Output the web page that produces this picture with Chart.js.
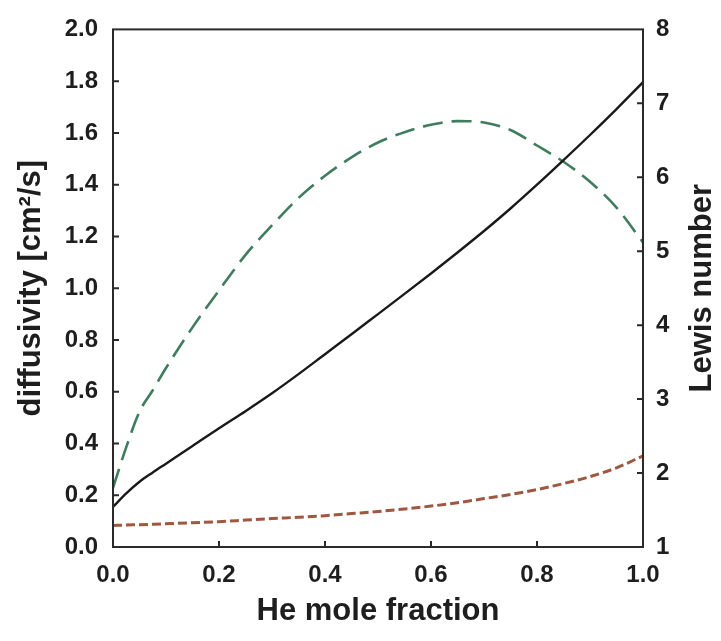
<!DOCTYPE html>
<html>
<head>
<meta charset="utf-8">
<script src="https://cdn.jsdelivr.net/npm/chart.js@4.4.1/dist/chart.umd.min.js"></script>
<style>
  html, body { margin: 0; padding: 0; background: #fff; }
  #wrap { width: 721px; height: 641px; position: relative; }
</style>
</head>
<body>
<div id="wrap"><canvas id="c"></canvas></div>
<script>
// He mole fraction sampled along the mixture range
const heFraction = [0, 0.025, 0.05, 0.075, 0.1, 0.15, 0.2, 0.25, 0.3, 0.35, 0.4, 0.45, 0.5,
                    0.55, 0.6, 0.65, 0.7, 0.75, 0.8, 0.85, 0.9, 0.95, 1.0];
// thermal diffusivity [cm^2/s] (left axis)
const thermalDiffusivity = [0.155, 0.207, 0.252, 0.288, 0.322, 0.390, 0.459, 0.525, 0.594, 0.668,
                            0.745, 0.822, 0.900, 0.978, 1.057, 1.138, 1.221, 1.308, 1.400, 1.495,
                            1.592, 1.692, 1.796];
// mass diffusivity [cm^2/s] (left axis)
const massDiffusivity = [0.083, 0.085, 0.086, 0.088, 0.090, 0.094, 0.098, 0.104, 0.110, 0.115,
                         0.121, 0.129, 0.137, 0.147, 0.158, 0.171, 0.187, 0.203, 0.222, 0.245,
                         0.272, 0.306, 0.352];
// Lewis number (right axis)
const lewisNumber = [1.80, 2.35, 2.83, 3.12, 3.42, 3.97, 4.47, 4.95, 5.35, 5.72, 6.02, 6.27, 6.47,
                     6.61, 6.71, 6.76, 6.74, 6.64, 6.43, 6.21, 5.94, 5.59, 5.12];

const xTicks = [0, 0.2, 0.4, 0.6, 0.8, 1.0];
const leftTicks = [0, 0.2, 0.4, 0.6, 0.8, 1.0, 1.2, 1.4, 1.6, 1.8, 2.0];
const rightTicks = [1, 2, 3, 4, 5, 6, 7, 8];

const FONT = "'Liberation Sans', Arial, sans-serif";
const INK = '#1e1e1e';
const TICK_FONT = { family: FONT, size: 24, weight: 'bold' };
const TITLE_FONT = { family: FONT, size: 31, weight: 'bold' };

const pairs = ys => heFraction.map((x, i) => ({ x: x, y: ys[i] }));

// frame, inward tick marks and the right-hand title
const framePlugin = {
  id: 'frame',
  afterDraw(chart) {
    const { ctx, chartArea: a, scales } = chart;
    ctx.save();
    ctx.strokeStyle = '#2a2a2a';
    ctx.lineWidth = 2;
    ctx.strokeRect(a.left, a.top, a.right - a.left, a.bottom - a.top);
    const len = 6;
    ctx.beginPath();
    xTicks.slice(1, -1).forEach(v => {
      const px = scales.x.getPixelForValue(v);
      ctx.moveTo(px, a.bottom); ctx.lineTo(px, a.bottom - len);
    });
    leftTicks.slice(1, -1).forEach(v => {
      const py = scales.y.getPixelForValue(v);
      ctx.moveTo(a.left, py); ctx.lineTo(a.left + len, py);
    });
    rightTicks.slice(1, -1).forEach(v => {
      const py = scales.y1.getPixelForValue(v);
      ctx.moveTo(a.right, py); ctx.lineTo(a.right - len, py);
    });
    ctx.stroke();

    ctx.fillStyle = INK;
    ctx.font = "bold " + TITLE_FONT.size + "px " + FONT;
    ctx.textAlign = 'center';
    ctx.textBaseline = 'middle';
    ctx.translate(702, (a.top + a.bottom) / 2);
    ctx.rotate(-Math.PI / 2);
    ctx.fillText('Lewis number', 0, 0);
    ctx.restore();
  }
};

new Chart(document.getElementById('c'), {
  type: 'line',
  data: {
    datasets: [
      {
        label: 'thermal diffusivity',
        data: pairs(thermalDiffusivity),
        yAxisID: 'y',
        borderColor: '#1a1a1a',
        borderWidth: 2.4,
        pointRadius: 0,
        cubicInterpolationMode: 'monotone'
      },
      {
        label: 'mass diffusivity',
        data: pairs(massDiffusivity),
        yAxisID: 'y',
        borderColor: '#a0573f',
        borderWidth: 3,
        borderDash: [9, 4],
        pointRadius: 0,
        cubicInterpolationMode: 'monotone'
      },
      {
        label: 'Lewis number',
        data: pairs(lewisNumber),
        yAxisID: 'y1',
        borderColor: '#3f7d5e',
        borderWidth: 2.6,
        borderDash: [20, 9],
        pointRadius: 0,
        cubicInterpolationMode: 'monotone'
      }
    ]
  },
  options: {
    responsive: true,
    maintainAspectRatio: false,
    animation: false,
    layout: { padding: { top: 18, left: 0, right: 0, bottom: 0 } },
    plugins: { legend: { display: false }, tooltip: { enabled: false } },
    scales: {
      x: {
        type: 'linear',
        min: 0, max: 1,
        afterBuildTicks: s => { s.ticks = xTicks.map(v => ({ value: v })); },
        afterFit: s => { s.height = 94; },
        grid: { display: false, drawTicks: false },
        border: { display: false },
        ticks: {
          padding: 14,
          color: INK,
          font: TICK_FONT,
          callback: v => v.toFixed(1)
        },
        title: {
          display: true,
          text: 'He mole fraction',
          color: INK,
          font: TITLE_FONT,
          padding: { top: 0, bottom: 11 }
        }
      },
      y: {
        type: 'linear',
        position: 'left',
        min: 0, max: 2,
        afterBuildTicks: s => { s.ticks = leftTicks.map(v => ({ value: v })); },
        afterFit: s => { s.width = 113; },
        grid: { display: false, drawTicks: false },
        border: { display: false },
        ticks: {
          padding: 15,
          color: INK,
          font: TICK_FONT,
          callback: v => v.toFixed(1)
        },
        title: {
          display: true,
          text: 'diffusivity [cm\u00B2/s]',
          color: INK,
          font: TITLE_FONT,
          padding: { top: 13, bottom: 0 }
        }
      },
      y1: {
        type: 'linear',
        position: 'right',
        min: 1, max: 8,
        afterBuildTicks: s => { s.ticks = rightTicks.map(v => ({ value: v })); },
        afterFit: s => { s.width = 78; },
        grid: { display: false, drawTicks: false },
        border: { display: false },
        ticks: {
          padding: 13,
          color: INK,
          font: TICK_FONT,
          callback: v => String(v)
        }
      }
    }
  },
  plugins: [framePlugin]
});
</script>
</body>
</html>
